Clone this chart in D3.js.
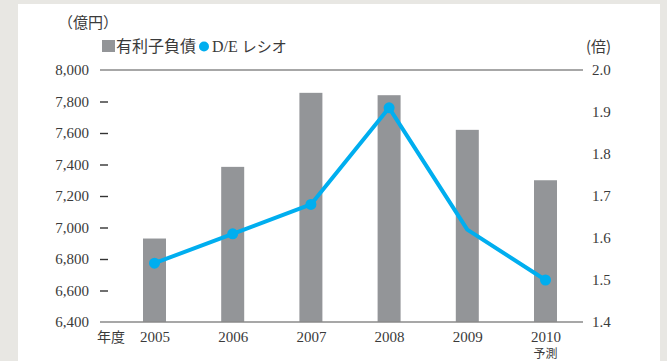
<!DOCTYPE html>
<html>
<head>
<meta charset="utf-8">
<script src="https://cdn.jsdelivr.net/npm/d3@7"></script>
<style>
  html, body { margin: 0; padding: 0; background: #e8e7e3; }
  svg { display: block; }
</style>
</head>
<body>
<svg id="chart" width="667" height="361"></svg>
<script>
// Fiscal years, interest-bearing debt (100M yen) and D/E ratio (times)
const years = ["2005", "2006", "2007", "2008", "2009", "2010"];
const debt = [6930, 7385, 7855, 7840, 7620, 7300];
const deRatio = [1.54, 1.61, 1.68, 1.91, 1.62, 1.50];
const showMarker = [true, true, true, true, false, true];
const leftTicks = [6400, 6600, 6800, 7000, 7200, 7400, 7600, 7800, 8000];
const rightTicks = [1.4, 1.5, 1.6, 1.7, 1.8, 1.9, 2.0];

const svg = d3.select("#chart");
const serif = "'Liberation Serif', 'DejaVu Serif', serif";
const cjk = "'Noto Sans CJK JP', sans-serif";
const textColor = "#3a3a3a";
const barColor = "#939598";
const lineColor = "#00aeef";
const axisColor = "#8a8a8a";

// white panel
svg.append("rect").attr("x", 18).attr("y", 4).attr("width", 642).attr("height", 357).attr("fill", "#ffffff");

const plot = { left: 100, right: 583, top: 70, bottom: 322 };

const x = d3.scalePoint().domain(years).range([154.5, 545.5]);
const yL = d3.scaleLinear().domain([6400, 8000]).range([plot.bottom, plot.top]);
const yR = d3.scaleLinear().domain([1.4, 2.0]).range([plot.bottom, plot.top]);
const barW = 23;

// bars
svg.append("g").selectAll("rect").data(years).join("rect")
  .attr("x", d => x(d) - barW / 2)
  .attr("y", (d, i) => yL(debt[i]))
  .attr("width", barW)
  .attr("height", (d, i) => plot.bottom - yL(debt[i]))
  .attr("fill", barColor);

// top rule and bottom baseline
[8000, 6400].forEach(v => {
  svg.append("line")
    .attr("x1", plot.left).attr("x2", plot.right)
    .attr("y1", yL(v)).attr("y2", yL(v))
    .attr("stroke", axisColor).attr("stroke-width", 1.6);
});

// left axis: labels and short dashes
const leftAxis = d3.axisLeft(yL).tickValues(leftTicks).tickFormat(d3.format(",")).tickSize(0).tickPadding(11);
const gL = svg.append("g").attr("transform", `translate(${plot.left},0)`).call(leftAxis);
gL.select(".domain").remove();
gL.selectAll("text").attr("font-family", serif).attr("font-size", 15).attr("fill", textColor);
gL.selectAll(".tick").filter(d => d !== 6400 && d !== 8000)
  .append("line").attr("x1", 0).attr("x2", 8).attr("y1", 0).attr("y2", 0)
  .attr("stroke", "#333").attr("stroke-width", 1.4);

// right axis labels
const rightAxis = d3.axisRight(yR).tickValues(rightTicks).tickFormat(d3.format(".1f")).tickSize(0).tickPadding(9);
const gR = svg.append("g").attr("transform", `translate(${plot.right},0)`).call(rightAxis);
gR.select(".domain").remove();
gR.selectAll("text").attr("font-family", serif).attr("font-size", 15).attr("fill", textColor);

// x axis labels
const xAxis = d3.axisBottom(x).tickSize(0).tickPadding(9);
const gX = svg.append("g").attr("transform", `translate(0,${plot.bottom})`).call(xAxis);
gX.select(".domain").remove();
gX.selectAll("text").attr("font-family", serif).attr("font-size", 15).attr("fill", textColor);

svg.append("text").attr("x", 97).attr("y", 342).text("年度")
  .attr("font-family", cjk).attr("font-size", 14).attr("fill", textColor);
svg.append("text").attr("x", x("2010")).attr("y", 358).attr("text-anchor", "middle").text("予測")
  .attr("font-family", cjk).attr("font-size", 12).attr("fill", textColor);

// unit labels
svg.append("text").attr("x", 58).attr("y", 28).text("（億円）")
  .attr("font-family", cjk).attr("font-size", 15).attr("fill", textColor);
svg.append("text").attr("x", 586).attr("y", 52).text("(倍)")
  .attr("font-family", cjk).attr("font-size", 15).attr("fill", textColor);

// legend
svg.append("rect").attr("x", 102).attr("y", 40).attr("width", 13).attr("height", 12).attr("fill", barColor);
svg.append("text").attr("x", 116).attr("y", 52).text("有利子負債")
  .attr("font-family", cjk).attr("font-size", 16).attr("fill", textColor);
svg.append("circle").attr("cx", 204).attr("cy", 46.5).attr("r", 5).attr("fill", lineColor);
svg.append("text").attr("x", 212).attr("y", 52)
  .attr("font-family", serif).attr("font-size", 16).attr("fill", textColor)
  .call(t => {
    t.append("tspan").text("D/E ");
    t.append("tspan").attr("font-family", cjk).attr("font-size", 15).text("レシオ");
  });

// D/E ratio line and point markers
const line = d3.line().x((d, i) => x(years[i])).y(d => yR(d));
svg.append("path").datum(deRatio)
  .attr("d", line).attr("fill", "none")
  .attr("stroke", lineColor).attr("stroke-width", 4).attr("stroke-linejoin", "round");
const markerData = years.map((yr, i) => ({ yr, v: deRatio[i] })).filter((d, i) => showMarker[i]);
svg.append("g").selectAll("circle").data(markerData).join("circle")
  .attr("cx", d => x(d.yr))
  .attr("cy", d => yR(d.v))
  .attr("r", 5.5).attr("fill", lineColor);
</script>
</body>
</html>
